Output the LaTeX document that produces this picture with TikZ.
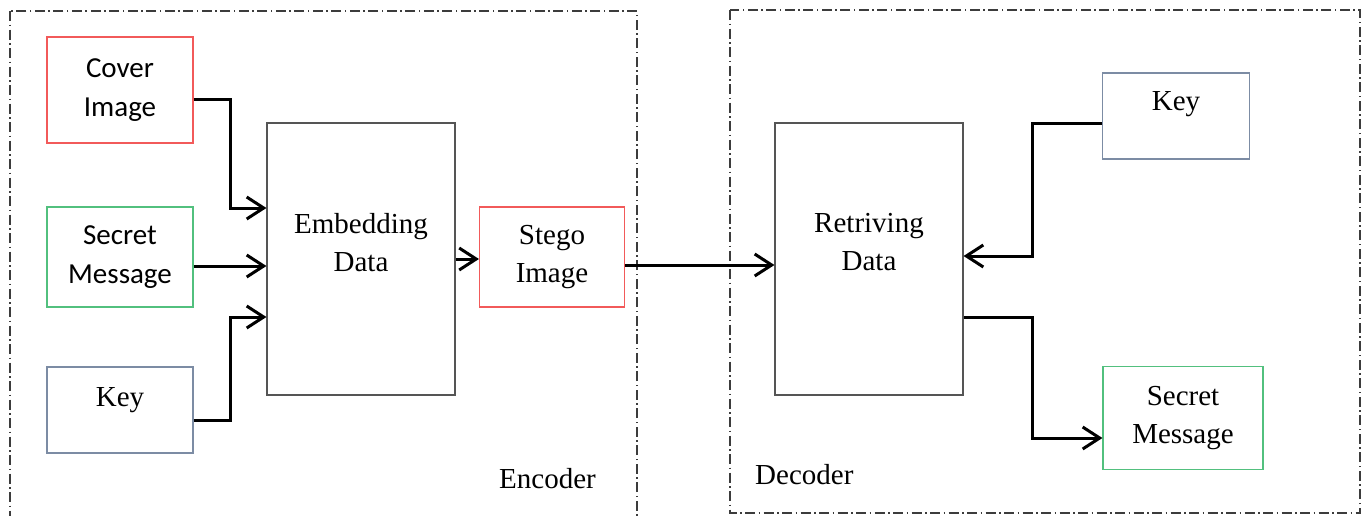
\documentclass[tikz,border=0pt]{standalone}
\usepackage{fontspec}
\setmainfont{Liberation Serif}
\newfontfamily\calibri{Carlito}
\usepackage{tikz}
\usetikzlibrary{arrows.meta,positioning,calc}
\usepackage{xcolor}
\definecolor{coverred}{HTML}{F25A5A}
\definecolor{msggreen}{HTML}{52C07E}
\definecolor{keyslate}{HTML}{7C8CA4}
\definecolor{boxgray}{HTML}{555555}
\definecolor{framegray}{HTML}{3C3C3C}

\begin{document}
\begin{tikzpicture}[x=1pt, y=-1pt, >={Straight Barb[length=17pt,width=22pt]},
  blk/.style={draw=boxgray, line width=1.1pt, inner sep=0pt, align=center,
    font=\fontsize{29}{38}\selectfont},
  txt/.style={inner sep=0pt, align=center, font=\fontsize{29}{38}\selectfont},
  link/.style={->, line width=3pt, black},
  frame/.style={draw=framegray, line width=1.1pt,
    dash pattern=on 10pt off 3.5pt on 1.5pt off 3.5pt}]
  \useasboundingbox (0,0) rectangle (1363,515);

  % Frames
  \draw[frame] (10,11) rectangle (637,530);
  \draw[frame] (730,10) rectangle (1360,513);
  \node[txt, anchor=base west] (encLbl) at (499,488) {Encoder};
  \node[txt, anchor=base west] (decLbl) at (755,484) {Decoder};

  % Encoder
  \node[blk, draw=coverred, minimum width=146pt, minimum height=106pt,
    font=\calibri\fontsize{29}{39}\selectfont] (cover) at (120,90) {Cover\\Image};
  \node[blk, draw=msggreen, minimum width=146pt, minimum height=100pt,
    font=\calibri\fontsize{29}{39}\selectfont] (secret) at (120,257) {Secret\\Message};
  \node[blk, draw=keyslate, minimum width=146pt, minimum height=86pt,
    label={[txt, name=keyATxt, anchor=north, yshift=-21pt]north:Key}] (keyA) at (120,410) {};
  \node[blk, minimum width=188pt, minimum height=272pt,
    label={[txt, name=embTxt, anchor=north, yshift=-91pt]north:Embedding\\Data}] (emb) at (361,259) {};
  \node[blk, draw=coverred, minimum width=145pt, minimum height=100pt] (stego) at (552,257) {Stego\\Image};

  \coordinate (c1) at ([yshift=-9pt]cover.east);
  \coordinate (c2) at ([yshift=51pt]emb.west);
  \coordinate (cm) at ($(c1)!0.5!(c2)$);
  \coordinate (s1) at ([yshift=-9pt]secret.east);
  \coordinate (k1) at ([yshift=-10pt]keyA.east);
  \coordinate (k2) at ([yshift=-58pt]emb.west);
  \coordinate (km) at ($(k1)!0.5!(k2)$);
  \draw[link] (c1) -- (c1 -| cm) |- (c2);
  \draw[link] (s1) -- (s1 -| emb.west);
  \draw[link] (k1) -- (k1 -| km) |- (k2);
  \draw[link] (emb.east) -- (emb.east -| stego.west);

  % Decoder
  \node[blk, minimum width=188pt, minimum height=272pt,
    label={[txt, name=retTxt, anchor=north, yshift=-91pt]north:Retriving\\Data}] (ret) at (869,259) {};
  \node[blk, draw=keyslate, minimum width=147pt, minimum height=86pt,
    label={[txt, name=keyBTxt, anchor=north, yshift=-19pt]north:Key}] (keyB) at (1176,116) {};
  \node[blk, draw=msggreen, minimum width=160pt, minimum height=103pt] (secretB) at (1183,418) {Secret\\Message};

  \coordinate (st1) at ([yshift=-8pt]stego.east);
  \coordinate (kb1) at ([yshift=-7pt]keyB.west);
  \coordinate (r1) at ([yshift=3pt]ret.east);
  \coordinate (rm) at ($(kb1)!0.5!(r1)$);
  \coordinate (r2) at ([yshift=-58pt]ret.east);
  \coordinate (sb1) at ([yshift=-20pt]secretB.west);
  \draw[link] (st1) -- (st1 -| ret.west);
  \draw[link] (kb1) -- (kb1 -| rm) |- (r1);
  \draw[link] (r2) -- (r2 -| rm) |- (sb1);
\end{tikzpicture}
\end{document}
